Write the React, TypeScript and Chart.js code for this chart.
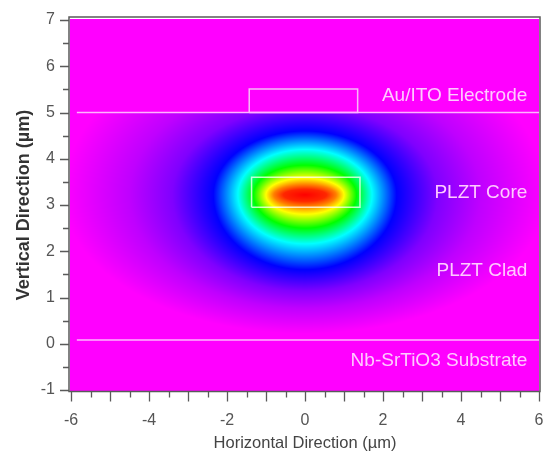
import React, { useEffect, useRef } from 'react';
import { Chart, registerables } from 'chart.js';

Chart.register(...registerables);

// ---- axes ----
const xMin = -6;
const xMax = 6;
const yMin = -1;
const yMax = 7;
const xLabelValues = [-6, -4, -2, 0, 2, 4, 6];
const yLabelValues = [-1, 0, 1, 2, 3, 4, 5, 6, 7];
const xTitle = 'Horizontal Direction (\u00b5m)';
const yTitle = 'Vertical Direction (\u00b5m)';

const modeCenterX = 0;
const modeCenterY = 3.22;
const modeLevels = [1, 0.97, 0.9, 0.8, 0.6, 0.4, 0.2, 0.1, 0.05, 0];
const modeExtentX = [0, 0.55, 0.8, 1.0, 1.32, 1.72, 2.35, 3.4, 4.5, 6.2];
const modeExtentUp = [0, 0.12, 0.22, 0.36, 0.64, 0.98, 1.38, 1.9, 2.5, 3.5];
const modeExtentDown = [0, 0.14, 0.25, 0.42, 0.72, 1.06, 1.62, 2.08, 2.45, 3.0];
const fieldTop = 5;
const fieldBottom = 0.08;

// ---- layer structure ----
const electrodeLineX = [-5.85, 6];
const electrodeLineY = [5, 5];
const substrateLineX = [-5.85, 6];
const substrateLineY = [0.08, 0.08];
const electrodeBoxX = [-1.43, 1.35, 1.35, -1.43, -1.43];
const electrodeBoxY = [5, 5, 5.51, 5.51, 5];
const coreBoxX = [-1.37, 1.41, 1.41, -1.37, -1.37];
const coreBoxY = [2.95, 2.95, 3.6, 3.6, 2.95];

const regionNames = ['Au/ITO Electrode', 'PLZT Core', 'PLZT Clad', 'Nb-SrTiO3 Substrate'];
const regionNameX = [5.7, 5.7, 5.7, 5.7];
const regionNameY = [5.36, 3.27, 1.57, -0.37];

const FONT = "'Liberation Sans', Arial, sans-serif";

function fieldAt(x: number, y: number): number {
  if (y > fieldTop || y < fieldBottom) return 0;
  const dx = x - modeCenterX;
  const dy = y - modeCenterY;
  if (dx === 0 && dy === 0) return modeLevels[0];
  const ext = dy >= 0 ? modeExtentUp : modeExtentDown;
  let prevInv = 0;
  for (let k = 1; k < modeLevels.length; k++) {
    const a = modeExtentX[k];
    const b = ext[k];
    const r = Math.sqrt((dx / a) * (dx / a) + (dy / b) * (dy / b));
    const inv = 1 / r;
    if (r <= 1) {
      const t = (1 - prevInv) / (inv - prevInv);
      return modeLevels[k - 1] + t * (modeLevels[k] - modeLevels[k - 1]);
    }
    prevInv = inv;
  }
  return modeLevels[modeLevels.length - 1];
}

function colorFor(v: number): [number, number, number] {
  const h = (300 * (1 - Math.max(0, Math.min(1, v)))) / 60;
  const i = Math.floor(h);
  const f = h - i;
  const q = 1 - f;
  let r = 0, g = 0, b = 0;
  switch (i) {
    case 0: r = 1; g = f; b = 0; break;
    case 1: r = q; g = 1; b = 0; break;
    case 2: r = 0; g = 1; b = f; break;
    case 3: r = 0; g = q; b = 1; break;
    case 4: r = f; g = 0; b = 1; break;
    default: r = 1; g = 0; b = 1; break;
  }
  return [Math.round(r * 255), Math.round(g * 255), Math.round(b * 255)];
}

const heatmapPlugin = {
  id: 'modeHeatmap',
  beforeDatasetsDraw(chart: any) {
    const { ctx, chartArea, scales } = chart;
    const xs = scales.x;
    const ys = scales.y;
    const x0 = Math.floor(chartArea.left - 1);
    const x1 = Math.ceil(chartArea.right);
    const y0 = Math.floor(chartArea.top - 1);
    const y1 = Math.ceil(chartArea.bottom + 1);
    const w = x1 - x0;
    const h = y1 - y0;
    const off = document.createElement('canvas');
    off.width = w;
    off.height = h;
    const octx = off.getContext('2d')!;
    const img = octx.createImageData(w, h);
    for (let j = 0; j < h; j++) {
      const yv = ys.getValueForPixel(y0 + j + 0.5);
      for (let i = 0; i < w; i++) {
        const xv = xs.getValueForPixel(x0 + i + 0.5);
        const [r, g, b] = colorFor(fieldAt(xv, yv));
        const p = (j * w + i) * 4;
        img.data[p] = r;
        img.data[p + 1] = g;
        img.data[p + 2] = b;
        img.data[p + 3] = 255;
      }
    }
    octx.putImageData(img, 0, 0);
    ctx.save();
    ctx.drawImage(off, x0, y0);
    ctx.restore();
  },
  afterDatasetsDraw(chart: any) {
    const { ctx, scales } = chart;
    ctx.save();
    ctx.font = `19px ${FONT}`;
    ctx.fillStyle = '#ffcaff';
    ctx.textAlign = 'right';
    ctx.textBaseline = 'middle';
    regionNames.forEach((name, i) => {
      ctx.fillText(name, scales.x.getPixelForValue(regionNameX[i]), scales.y.getPixelForValue(regionNameY[i]));
    });
    ctx.restore();
  },
  afterDraw(chart: any) {
    const { ctx, chartArea, scales } = chart;
    ctx.save();
    ctx.strokeStyle = '#5a5a5a';
    ctx.lineWidth = 1.5;
    ctx.strokeRect(chartArea.left - 2, chartArea.top - 3, chartArea.right - chartArea.left + 3, chartArea.bottom - chartArea.top + 4.5);
    ctx.lineWidth = 1.3;
    ctx.beginPath();
    const bottom = chartArea.bottom + 1.5;
    scales.x.ticks.forEach((t: any) => {
      const px = Math.round(scales.x.getPixelForValue(t.value)) + 0.5;
      const major = Number.isInteger(t.value);
      ctx.moveTo(px, bottom);
      ctx.lineTo(px, bottom + (major ? 10 : 6));
    });
    const left = chartArea.left - 2;
    scales.y.ticks.forEach((t: any) => {
      const py = Math.round(scales.y.getPixelForValue(t.value)) + 0.5;
      const major = Number.isInteger(t.value);
      ctx.moveTo(left, py);
      ctx.lineTo(left - (major ? 9 : 6), py);
    });
    ctx.stroke();
    ctx.restore();
  },
};

function pts(xs: number[], ys: number[]) {
  return xs.map((x, i) => ({ x, y: ys[i] }));
}

export default function App() {
  const ref = useRef<HTMLCanvasElement | null>(null);
  useEffect(() => {
    if (!ref.current) return;
    const lineStyle = { showLine: true, pointRadius: 0, borderWidth: 1.5, fill: false, tension: 0 };
    const chart = new Chart(ref.current, {
      type: 'scatter',
      data: {
        datasets: [
          { label: 'electrode interface', data: pts(electrodeLineX, electrodeLineY), borderColor: '#ffb4ff', ...lineStyle },
          { label: 'substrate interface', data: pts(substrateLineX, substrateLineY), borderColor: '#ffb4ff', ...lineStyle },
          { label: 'electrode', data: pts(electrodeBoxX, electrodeBoxY), borderColor: '#f7b8f7', ...lineStyle },
          { label: 'core', data: pts(coreBoxX, coreBoxY), borderColor: 'rgba(255,255,255,0.75)', ...lineStyle },
        ],
      },
      options: {
        animation: false,
        responsive: false,
        devicePixelRatio: 1,
        layout: { padding: { left: 0, right: 5, top: 20, bottom: 0 } },
        plugins: { legend: { display: false }, tooltip: { enabled: false } },
        scales: {
          x: {
            type: 'linear',
            min: xMin,
            max: xMax,
            grid: { display: false, drawTicks: true, tickLength: 21 },
            border: { display: false },
            ticks: {
              stepSize: 0.5,
              autoSkip: false,
              maxRotation: 0,
              padding: 0,
              color: '#555',
              font: { family: FONT, size: 16 },
              callback: (v: any) => (xLabelValues.includes(Number(v)) ? String(v) : ''),
            },
            title: { display: true, text: xTitle, color: '#444', font: { family: FONT, size: 16.5 }, padding: { top: 0, bottom: 0 } },
            afterFit: (s: any) => { s.height = 63; },
          },
          y: {
            type: 'linear',
            min: yMin,
            max: yMax,
            grid: { display: false, drawTicks: true, tickLength: 16 },
            border: { display: false },
            ticks: {
              stepSize: 0.5,
              autoSkip: false,
              padding: 0,
              color: '#555',
              font: { family: FONT, size: 16 },
              callback: (v: any) => (yLabelValues.includes(Number(v)) ? String(v) : ''),
            },
            title: { display: true, text: yTitle, color: '#333', font: { family: FONT, size: 18, weight: 'bold' }, padding: { top: 13, bottom: 0 } },
            afterFit: (s: any) => { s.width = 71; },
          },
        },
      },
      plugins: [heatmapPlugin],
    } as any);
    return () => chart.destroy();
  }, []);
  return (
    <div style={{ position: 'fixed', left: 0, top: 0, width: 544, height: 453, background: '#fff' }}>
      <canvas ref={ref} width={544} height={453} style={{ width: 544, height: 453, display: 'block' }} />
    </div>
  );
}
